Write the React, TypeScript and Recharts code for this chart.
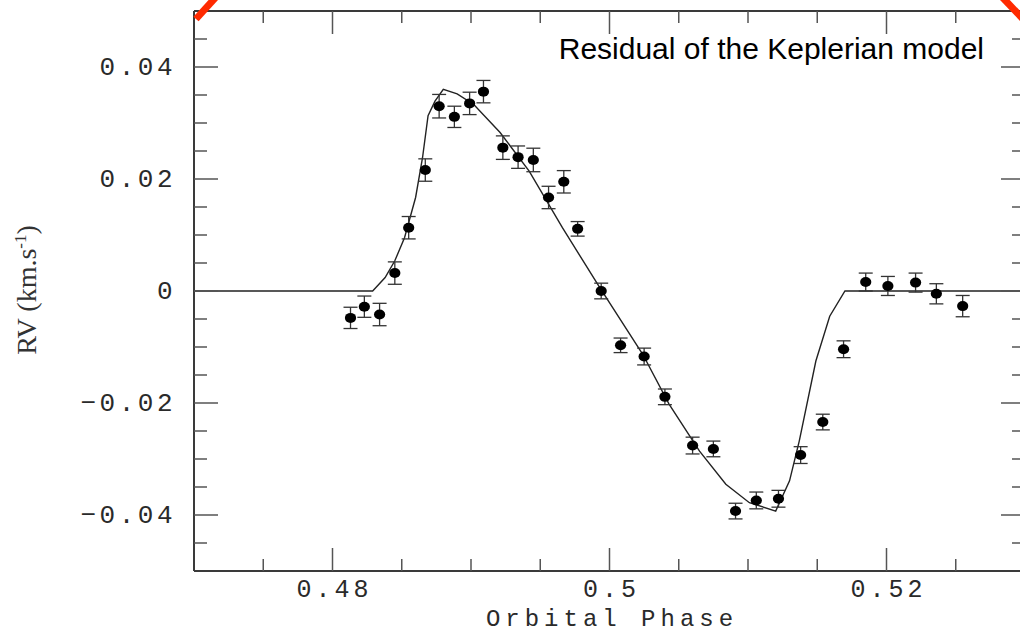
import React from 'react';
import { ComposedChart, Line, Scatter, ErrorBar, XAxis, YAxis } from 'recharts';

// Observed RV residuals (km/s) against orbital phase, with 1-sigma errors
const obsPhase = [
  0.4813, 0.4823, 0.4834, 0.4845, 0.4855, 0.4867, 0.4877, 0.4888, 0.4899, 0.4909,
  0.4923, 0.4934, 0.4945, 0.4956, 0.4967, 0.4977, 0.4994, 0.5008, 0.5025, 0.504,
  0.506, 0.5075, 0.5091, 0.5106, 0.5122, 0.5138, 0.5154, 0.5169, 0.5185, 0.5201,
  0.5221, 0.5236, 0.5255,
];
const obsRv = [
  -0.0048, -0.0028, -0.0042, 0.0032, 0.0113, 0.0216, 0.033, 0.0311, 0.0335, 0.0356,
  0.0256, 0.0239, 0.0234, 0.0167, 0.0195, 0.0111, 0.0, -0.0097, -0.0117, -0.0189,
  -0.0276, -0.0282, -0.0393, -0.0374, -0.0371, -0.0293, -0.0234, -0.0104, 0.0016, 0.0009,
  0.0015, -0.0005, -0.0027,
];
const obsErr = [
  0.0019, 0.0019, 0.002, 0.002, 0.002, 0.002, 0.0021, 0.0019, 0.002, 0.002,
  0.0021, 0.002, 0.0021, 0.002, 0.002, 0.0013, 0.0014, 0.0013, 0.0015, 0.0014,
  0.0015, 0.0014, 0.0014, 0.0015, 0.0015, 0.0015, 0.0014, 0.0015, 0.0016, 0.0017,
  0.0017, 0.0018, 0.0019,
];

// Model curve (polyline vertices)
const modelPhase = [
  0.47, 0.4829, 0.4838, 0.4845, 0.4852, 0.486, 0.4865, 0.4869, 0.4874, 0.488,
  0.489, 0.4902, 0.4921, 0.4942, 0.4966, 0.4993, 0.5024, 0.5043, 0.5065, 0.5084,
  0.5101, 0.512, 0.513, 0.5137, 0.5149, 0.5159, 0.517, 0.53,
];
const modelRv = [
  0, 0, 0.0024, 0.0054, 0.0095, 0.0167, 0.0238, 0.0313, 0.0339, 0.036,
  0.0352, 0.0333, 0.0283, 0.0214, 0.0113, 0.0006, -0.0113, -0.0202, -0.0286, -0.0345,
  -0.0378, -0.0393, -0.0339, -0.0268, -0.0125, -0.0045, 0, 0,
];

const xDomain = [0.47, 0.53];
const yDomain = [-0.05, 0.05];
const xTicks = [0.475, 0.48, 0.485, 0.49, 0.495, 0.5, 0.505, 0.51, 0.515, 0.52, 0.525];
const xLabelled = [0.48, 0.5, 0.52];
const yTicks = [-0.045, -0.04, -0.035, -0.03, -0.025, -0.02, -0.015, -0.01, -0.005, 0,
  0.005, 0.01, 0.015, 0.02, 0.025, 0.03, 0.035, 0.04, 0.045];
const yLabelled = [-0.04, -0.02, 0, 0.02, 0.04];

const obsData = obsPhase.map((p, i) => ({ phase: p, rv: obsRv[i], err: obsErr[i] }));
const modelData = modelPhase.map((p, i) => ({ phase: p, rv: modelRv[i] }));

const isIn = (list: number[], v: number) => list.some((m) => Math.abs(m - v) < 1e-9);

const TICK_MAJOR = 23;
const TICK_MINOR = 12;
const TICK_COLOR = '#555';
const FRAME_COLOR = '#3a3a3a';
const LABEL_FONT = '"Liberation Mono", "DejaVu Sans Mono", monospace';
const LABEL_COLOR = '#2a2a2a';

const fmtY = (v: number) => {
  if (Math.abs(v) < 1e-9) return '0';
  const s = Math.abs(v).toFixed(2);
  return v < 0 ? '\u2212' + s : s;
};

const BottomTick = (props: any) => {
  const { x, y, payload } = props;
  const v = payload.value;
  const major = isIn(xLabelled, v);
  return (
    <g>
      <line x1={x} y1={y} x2={x} y2={y - (major ? TICK_MAJOR : TICK_MINOR)} stroke={TICK_COLOR} strokeWidth={1.5} />
      {major && (
        <text x={x + 2} y={y + 26} textAnchor="middle" fontFamily={LABEL_FONT} fontSize={25}
          letterSpacing={4} fill={LABEL_COLOR}>
          {String(v)}
        </text>
      )}
    </g>
  );
};

const TopTick = (props: any) => {
  const { x, y, payload } = props;
  const major = isIn(xLabelled, payload.value);
  return (
    <line x1={x} y1={y} x2={x} y2={y + (major ? TICK_MAJOR : TICK_MINOR)} stroke={TICK_COLOR} strokeWidth={1.5} />
  );
};

const LeftTick = (props: any) => {
  const { x, y, payload } = props;
  const v = payload.value;
  const major = isIn(yLabelled, v);
  return (
    <g>
      <line x1={x} y1={y} x2={x + (major ? TICK_MAJOR + 1 : TICK_MINOR + 1)} y2={y} stroke={TICK_COLOR} strokeWidth={1.5} />
      {major && (
        <text x={x - 18} y={y + 8} textAnchor="end" fontFamily={LABEL_FONT} fontSize={26}
          letterSpacing={3.5} fill={LABEL_COLOR}>
          {fmtY(v)}
        </text>
      )}
    </g>
  );
};

const RightTick = (props: any) => {
  const { x, y, payload } = props;
  const major = isIn(yLabelled, payload.value);
  return (
    <line x1={x} y1={y} x2={x - (major ? TICK_MAJOR + 1 : TICK_MINOR + 1)} y2={y} stroke={TICK_COLOR} strokeWidth={1.5} />
  );
};

const Dot = (props: any) => {
  const { cx, cy } = props;
  if (cx == null || cy == null) return null;
  return <ellipse cx={cx} cy={cy} rx={5.6} ry={5} fill="#000" />;
};

const YTitle = () => (
  <text transform="translate(36,290) rotate(-90)" textAnchor="middle"
    fontFamily='"Liberation Serif", "DejaVu Serif", serif' fontSize={28} fill="#333">
    <tspan>RV (km.s</tspan>
    <tspan dy={-10} fontSize={17}>-1</tspan>
    <tspan dy={10}>)</tspan>
  </text>
);

const XTitle = () => (
  <text x={612} y={626} textAnchor="middle" fontFamily={LABEL_FONT} fontSize={24}
    letterSpacing={5} fill={LABEL_COLOR}>
    Orbital Phase
  </text>
);

export default function App() {
  return (
    <div style={{ position: 'absolute', left: 0, top: 0, width: 1020, height: 632, overflow: 'hidden', background: '#fff' }}>
      <ComposedChart width={1040} height={632} margin={{ top: 6, right: 10, bottom: 6, left: 94 }}>
        <XAxis xAxisId="bottom" dataKey="phase" type="number" orientation="bottom" domain={xDomain}
          allowDataOverflow ticks={xTicks} interval={0} height={55} tickSize={0} tickMargin={0}
          tickLine={false} axisLine={{ stroke: FRAME_COLOR, strokeWidth: 2 }} tick={<BottomTick />}
          label={<XTitle />} />
        <XAxis xAxisId="top" dataKey="phase" type="number" orientation="top" domain={xDomain}
          allowDataOverflow ticks={xTicks} interval={0} height={5} tickSize={0} tickMargin={0}
          tickLine={false} axisLine={{ stroke: FRAME_COLOR, strokeWidth: 2 }} tick={<TopTick />} />
        <YAxis yAxisId="left" type="number" orientation="left" domain={yDomain} allowDataOverflow
          ticks={yTicks} interval={0} width={100} tickSize={0} tickMargin={0} tickLine={false}
          axisLine={{ stroke: FRAME_COLOR, strokeWidth: 2 }} tick={<LeftTick />}
          label={<YTitle />} />
        <YAxis yAxisId="right" type="number" orientation="right" domain={yDomain} allowDataOverflow
          ticks={yTicks} interval={0} width={5} tickSize={0} tickMargin={0} tickLine={false}
          axisLine={{ stroke: FRAME_COLOR, strokeWidth: 2 }} tick={<RightTick />} />
        <Line xAxisId="top" yAxisId="right" data={modelData} dataKey="rv" type="linear"
          stroke="#222" strokeWidth={1.4} dot={false} activeDot={false} isAnimationActive={false} />
        <Scatter xAxisId="bottom" yAxisId="left" data={obsData} dataKey="rv" shape={<Dot />}
          isAnimationActive={false}>
          <ErrorBar dataKey="err" direction="y" width={7} stroke="#333" strokeWidth={1.3}
            isAnimationActive={false} />
        </Scatter>
      </ComposedChart>
      <svg width={1020} height={632} style={{ position: 'absolute', left: 0, top: 0, pointerEvents: 'none' }}>
        <text x={984} y={59} textAnchor="end" fontFamily='"Liberation Sans", Arial, sans-serif'
          fontSize={30} fill="#000">
          Residual of the Keplerian model
        </text>
        <line x1={196} y1={19} x2={216} y2={-3} stroke="#ff2a00" strokeWidth={7} />
        <line x1={1002} y1={-3} x2={1024} y2={20} stroke="#ff2a00" strokeWidth={7} />
      </svg>
    </div>
  );
}
